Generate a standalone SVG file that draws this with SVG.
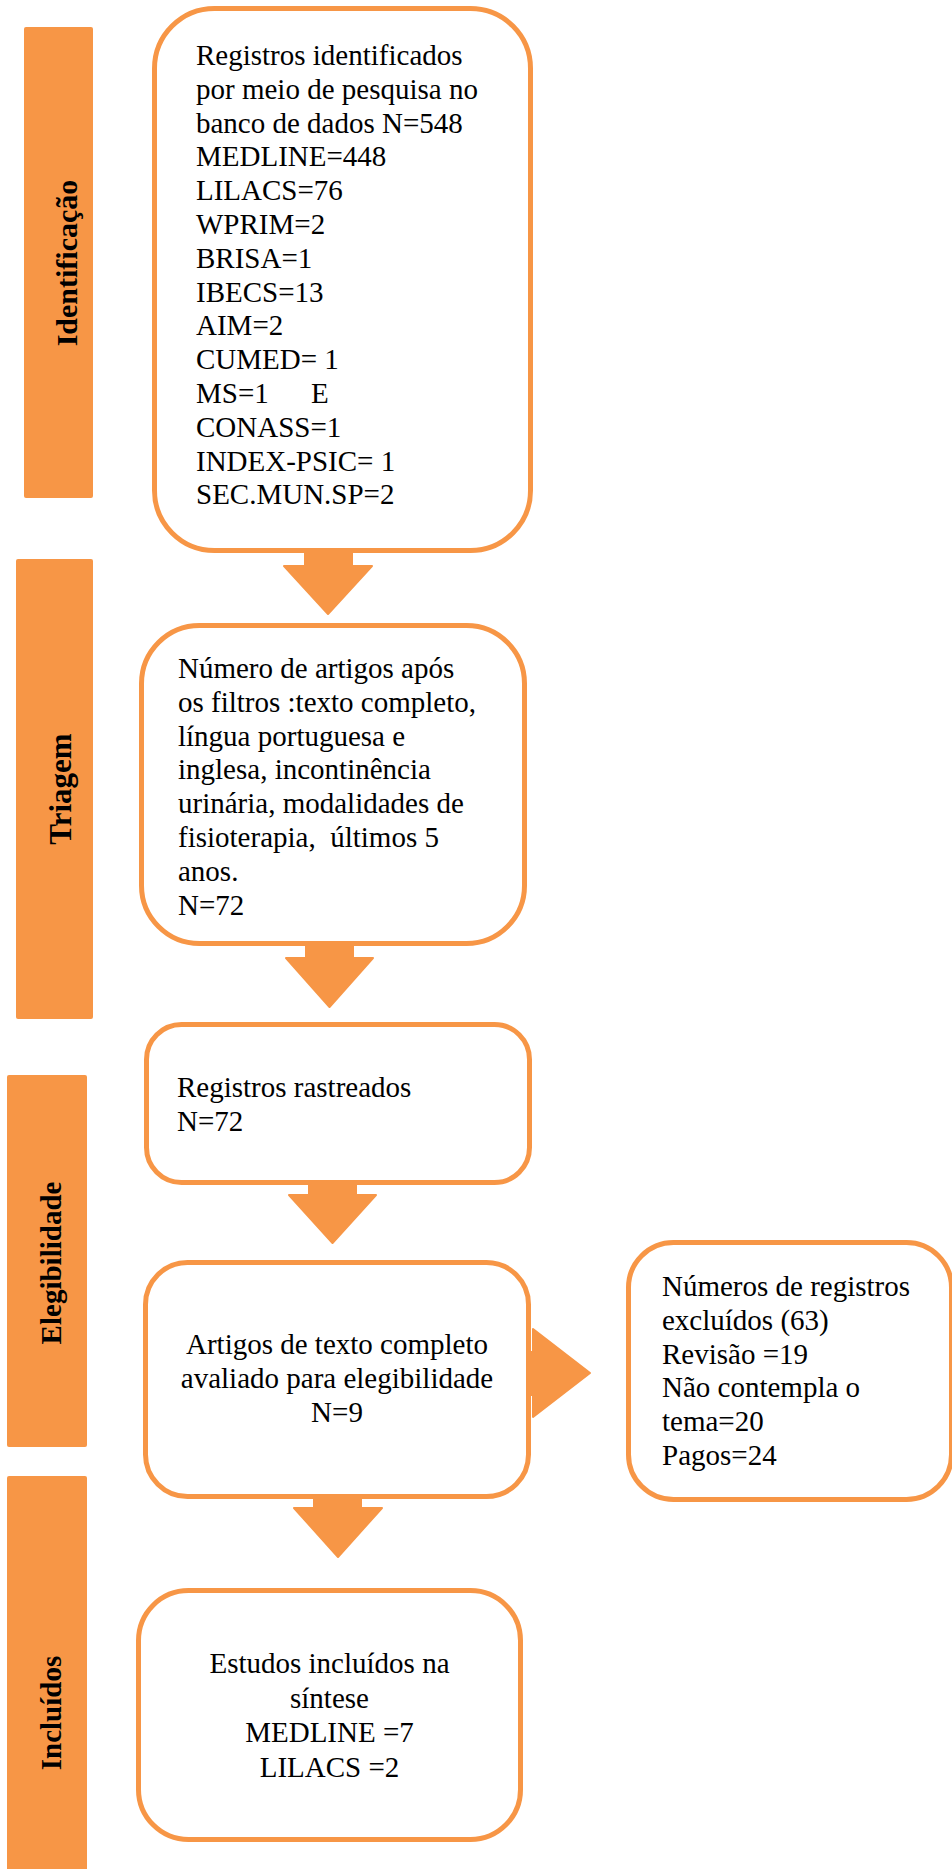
<svg xmlns="http://www.w3.org/2000/svg" width="952" height="1869" viewBox="0 0 952 1869">
<style>
.bar{fill:#F79646;}
.box{fill:#FFFFFF;stroke:#F79646;stroke-width:5;}
.arr{fill:#F79646;stroke:#F79646;stroke-width:2;stroke-linejoin:round;}
.t{font-family:"Liberation Serif","Times New Roman",serif;font-size:29px;fill:#000000;}
.c{text-anchor:middle;}
.lbl{font-family:"Liberation Serif","Times New Roman",serif;font-size:29px;font-weight:bold;fill:#000000;text-anchor:middle;}
</style>
<rect width="952" height="1869" fill="#FFFFFF"/>
<g id="bar-identificacao">
<rect class="bar" x="24" y="27" width="69" height="471" rx="2"/>
<text class="lbl" style="font-size:30px" transform="translate(77,263) rotate(-90)">Identificação</text>
</g>
<g id="bar-triagem">
<rect class="bar" x="16" y="559" width="77" height="460" rx="2"/>
<text class="lbl" style="font-size:31px" transform="translate(71,789) rotate(-90)">Triagem</text>
</g>
<g id="bar-elegibilidade">
<rect class="bar" x="7" y="1075" width="80" height="372" rx="2"/>
<text class="lbl" transform="translate(61,1263) rotate(-90)">Elegibilidade</text>
</g>
<g id="bar-incluidos">
<rect class="bar" x="7" y="1476" width="80" height="400" rx="2"/>
<text class="lbl" transform="translate(61,1713) rotate(-90)">Incluídos</text>
</g>
<g id="connectors">
<polygon class="arr" points="305,550 352,550 352,566 372,566 328,614 284,566 305,566"/>
<polygon class="arr" points="306,944 353,944 353,958 373,958 329.5,1007 286,958 306,958"/>
<polygon class="arr" points="309,1183 356,1183 356,1195 376,1195 332.5,1243 289,1195 309,1195"/>
<polygon class="arr" points="314,1497 361,1497 361,1508 382,1508 338,1557 294,1508 314,1508"/>
<polygon class="arr" points="528,1352 533,1352 533,1329 590,1373 533,1417 533,1395 528,1395"/>
</g>
<g id="node-identificados">
<rect class="box" x="154.5" y="8.5" width="376" height="542" rx="60"/>
<text class="t" x="196" y="65">Registros identificados</text>
<text class="t" x="196" y="99">por meio de pesquisa no</text>
<text class="t" x="196" y="133">banco de dados N=548</text>
<text class="t" x="196" y="166">MEDLINE=448</text>
<text class="t" x="196" y="200">LILACS=76</text>
<text class="t" x="196" y="234">WPRIM=2</text>
<text class="t" x="196" y="268">BRISA=1</text>
<text class="t" x="196" y="302">IBECS=13</text>
<text class="t" x="196" y="335">AIM=2</text>
<text class="t" x="196" y="369">CUMED= 1</text>
<text class="t" x="196" y="403"><tspan x="196">MS=1</tspan><tspan x="311">E</tspan></text>
<text class="t" x="196" y="437">CONASS=1</text>
<text class="t" x="196" y="471">INDEX-PSIC= 1</text>
<text class="t" x="196" y="504">SEC.MUN.SP=2</text>
</g>
<g id="node-triagem">
<rect class="box" x="141.5" y="625.5" width="383" height="318" rx="58"/>
<text class="t" x="178" y="678">Número de artigos após</text>
<text class="t" x="178" y="712">os filtros :texto completo,</text>
<text class="t" x="178" y="746">língua portuguesa e</text>
<text class="t" x="178" y="779">inglesa, incontinência</text>
<text class="t" x="178" y="813">urinária, modalidades de</text>
<text class="t" x="178" y="847" xml:space="preserve">fisioterapia,  últimos 5</text>
<text class="t" x="178" y="881">anos.</text>
<text class="t" x="178" y="915">N=72</text>
</g>
<g id="node-rastreados">
<rect class="box" x="146.5" y="1024.5" width="383" height="158" rx="35"/>
<text class="t" x="177" y="1097">Registros rastreados</text>
<text class="t" x="177" y="1131">N=72</text>
</g>
<g id="node-elegibilidade">
<rect class="box" x="145.5" y="1262.5" width="383" height="234" rx="42"/>
<text class="t c" x="337" y="1354">Artigos de texto completo</text>
<text class="t c" x="337" y="1388">avaliado para elegibilidade</text>
<text class="t c" x="337" y="1422">N=9</text>
</g>
<g id="node-excluidos">
<rect class="box" x="628.5" y="1242.5" width="323" height="257" rx="45"/>
<text class="t" x="662" y="1296">Números de registros</text>
<text class="t" x="662" y="1330">excluídos (63)</text>
<text class="t" x="662" y="1364">Revisão =19</text>
<text class="t" x="662" y="1397">Não contempla o</text>
<text class="t" x="662" y="1431">tema=20</text>
<text class="t" x="662" y="1465">Pagos=24</text>
</g>
<g id="node-incluidos">
<rect class="box" x="138.5" y="1590.5" width="382" height="249" rx="50"/>
<text class="t c" x="329.5" y="1673">Estudos incluídos na</text>
<text class="t c" x="329.5" y="1708">síntese</text>
<text class="t c" x="329.5" y="1742">MEDLINE =7</text>
<text class="t c" x="329.5" y="1777">LILACS =2</text>
</g>
</svg>
